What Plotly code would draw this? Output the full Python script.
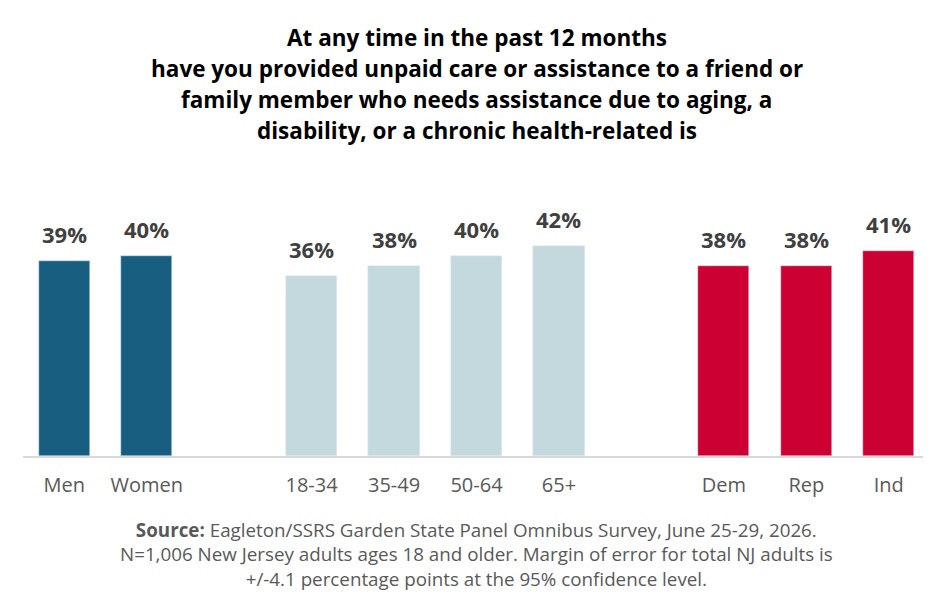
import plotly.graph_objects as go

# categories (blank slots separate the three groups)
gender = ['Men', 'Women']
gender_vals = [39, 40]
age = ['18-34', '35-49', '50-64', '65+']
age_vals = [36, 38, 40, 42]
party = ['Dem', 'Rep', 'Ind']
party_vals = [38, 38, 41]
slots = gender + [' '] + age + ['  '] + party

title_lines = ['At any time in the past 12 months',
               'have you provided unpaid care or assistance to a friend or',
               'family member who needs assistance due to aging, a',
               'disability, or a chronic health-related is']
source = ('<b>Source:</b> Eagleton/SSRS Garden State Panel Omnibus Survey, June 25-29, 2026.<br>'
          'N=1,006 New Jersey adults ages 18 and older. Margin of error for total NJ adults is<br>'
          '+/-4.1 percentage points at the 95% confidence level.')

FONT = 'Open Sans'

fig = go.Figure()
for cats, vals, col in [(gender, gender_vals, '#175e80'),
                        (age, age_vals, '#c4d9dd'),
                        (party, party_vals, '#cc0033')]:
    fig.add_bar(x=cats, y=vals, marker_color=col, width=0.62, showlegend=False)
    # value labels sit a bit higher above the bars than plotly's own outside text
    for c, v in zip(cats, vals):
        fig.add_annotation(x=c, y=v, text=f'<b>{v}%</b>', showarrow=False,
                           yanchor='bottom', yshift=10,
                           font=dict(family=FONT, size=22, color='#404040'))

# the page body adds an 8px offset, margins are compensated for it
fig.update_layout(
    width=931, height=596,
    margin=dict(l=15, r=9, t=162, b=148),
    paper_bgcolor='white', plot_bgcolor='white',
    font=dict(family=FONT),
    bargap=0,
)
fig.update_xaxes(type='category', categoryorder='array', categoryarray=slots,
                 showline=True, linecolor='#d9d9d9', linewidth=2, ticks='',
                 ticklabelstandoff=10,
                 tickfont=dict(size=20, color='#595959'), showgrid=False)
fig.update_yaxes(range=[0, 57.2], visible=False, showgrid=False)

# title lines spaced like the original (wider than plotly's default leading)
for i, line in enumerate(title_lines):
    fig.add_annotation(text=f'<b>{line}</b>', xref='paper', yref='paper',
                       x=0.5, y=1.465 - i * 0.1085, xanchor='center', yanchor='middle',
                       showarrow=False, font=dict(family=FONT, size=22.5, color='black'))
fig.add_annotation(text=source, xref='paper', yref='paper', x=0.5, y=-0.205,
                   xanchor='center', yanchor='top', showarrow=False, align='center',
                   font=dict(family=FONT, size=18.8, color='#595959'))

fig.write_html('out.html')
